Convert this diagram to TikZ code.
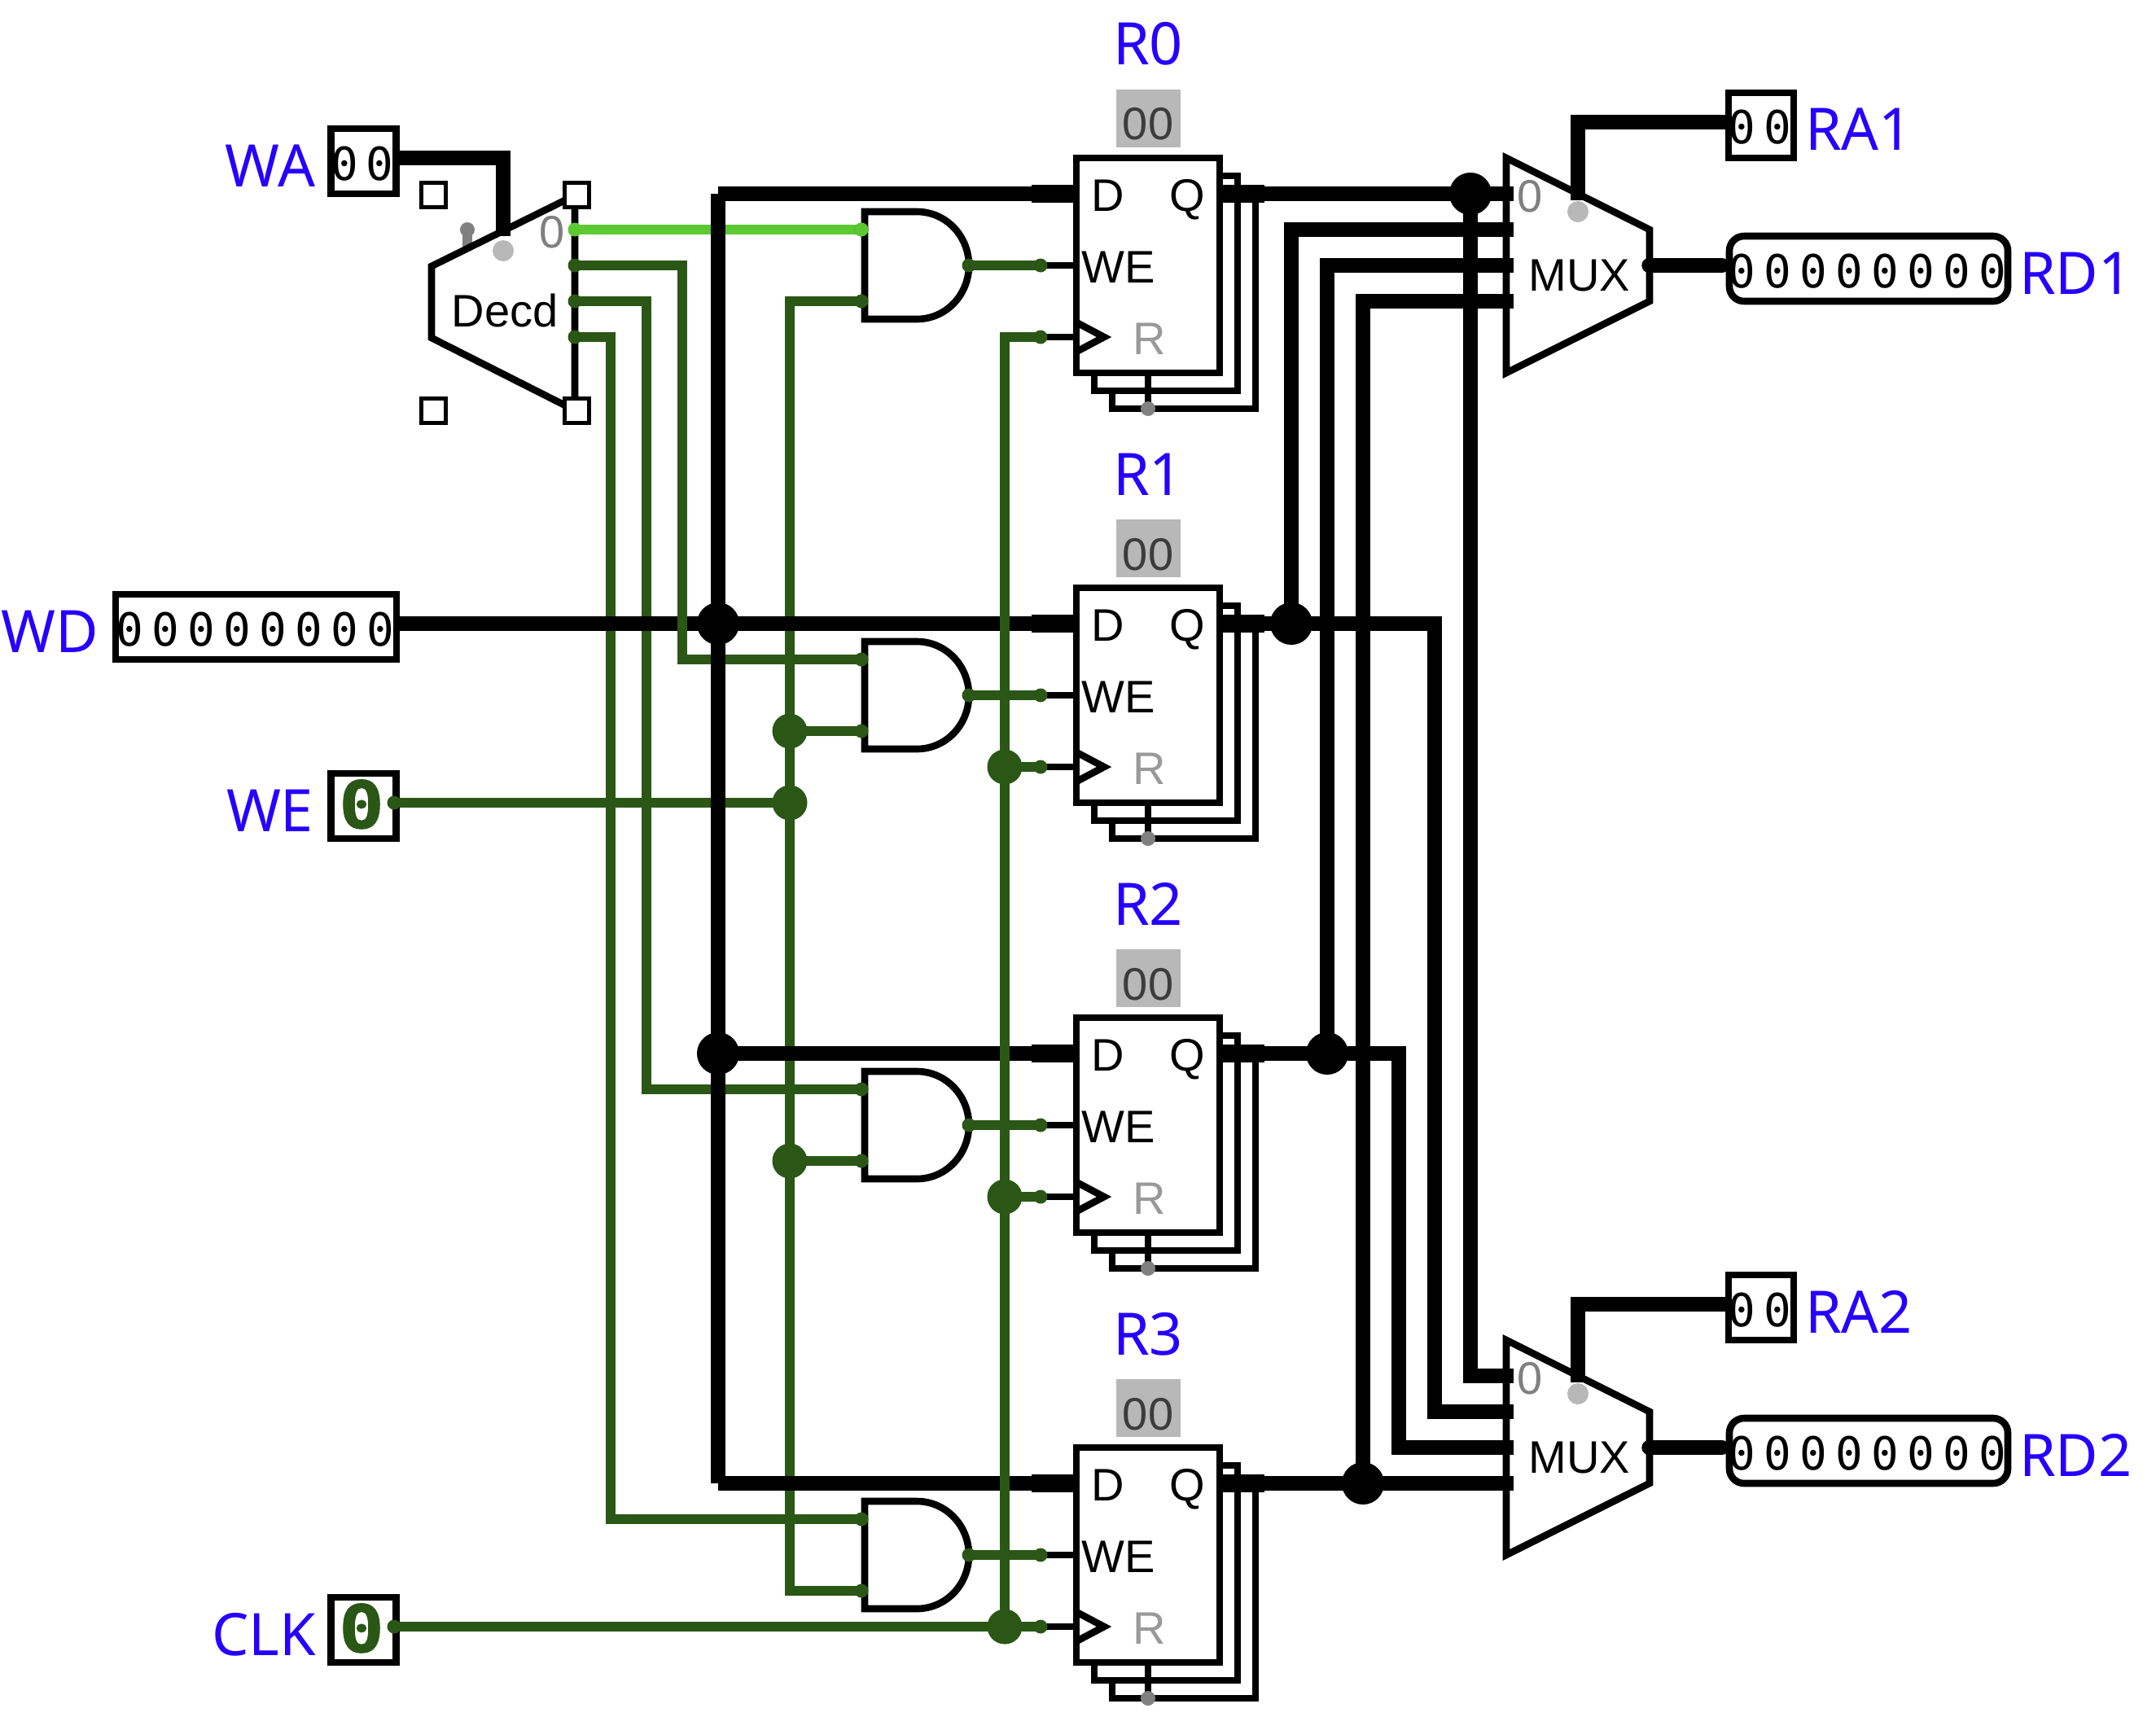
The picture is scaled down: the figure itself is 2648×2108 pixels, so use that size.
\documentclass[tikz,border=0pt]{standalone}
\usepackage{fontspec}
\setmainfont{Liberation Sans}
\newfontfamily\labfont{Noto Sans}
\newfontfamily\digfont{DejaVu Sans Mono}[LetterSpace=18.4]
\newfontfamily\bitfont{DejaVu Sans Mono}[FakeStretch=1.15,FakeBold=1.5]
\definecolor{wgreen}{HTML}{2B5716}
\definecolor{wlime}{HTML}{5CC932}
\definecolor{lblue}{HTML}{2600FF}
\definecolor{pgray}{HTML}{808080}
\definecolor{lgray}{HTML}{B8B8B8}
\definecolor{rgray}{HTML}{999999}
\definecolor{vtext}{HTML}{3C3C3C}
\newcommand{\px}[1]{\fontsize{#1}{#1}\selectfont}
\tikzset{
  bus/.style={draw=black,line width=8.7pt},
  stubw/.style={draw=black,line width=11.2pt},
  thin wire/.style={draw=black,line width=4.3pt},
  gwire/.style={draw=wgreen,line width=6.3pt},
  limew/.style={draw=wlime,line width=6.3pt},
  part/.style={draw=black,line width=4.3pt,fill=white,line join=miter},
  regbox/.style={part,rectangle,inner sep=0pt,outer sep=0pt,minimum width=88pt,minimum height=132pt},
  valbox/.style={part,rectangle,inner sep=0pt,outer sep=0pt,minimum height=40pt},
  handle/.style={draw=black,line width=2.5pt,fill=white,rectangle,inner sep=0pt,outer sep=0pt,minimum size=15pt},
  bdot/.style={circle,fill=black,inner sep=0pt,outer sep=0pt,minimum size=26pt},
  jdot/.style={circle,fill=wgreen,inner sep=0pt,outer sep=0pt,minimum size=21.5pt},
  pin/.style={circle,fill=wgreen,inner sep=0pt,outer sep=0pt,minimum size=8.5pt},
  pinl/.style={circle,fill=wlime,inner sep=0pt,outer sep=0pt,minimum size=8.5pt},
  gdot/.style={circle,fill=pgray,inner sep=0pt,outer sep=0pt,minimum size=9pt},
  sel/.style={circle,fill=lgray,inner sep=0pt,outer sep=0pt,minimum size=13pt},
  lab/.style={inner sep=0pt,outer sep=0pt,text=lblue,font={\labfont\bfseries\px{36}},anchor=base},
  txt/.style={inner sep=0pt,outer sep=0pt,font={\px{28}},anchor=base},
  dig/.style={inner sep=0pt,outer sep=0pt,font={\digfont\px{28}},anchor=base west},
  bit/.style={inner sep=0pt,outer sep=0pt,text=wgreen,font={\bitfont\bfseries\px{40}},anchor=base}
}
\begin{document}
\begin{tikzpicture}[x=0.5pt,y=-0.5pt]
\useasboundingbox (0,0) rectangle (2648,2108);
% pins of the four register rows
\foreach \i in {0,1,2,3}{
  \pgfmathsetmacro\dy{528*\i}
  \coordinate (Rd\i) at (1322,238+\dy);
  \coordinate (Dst\i) at (1267,238+\dy);
  \coordinate (Rq\i) at (1498,238+\dy);
  \coordinate (Qst\i) at (1553,238+\dy);
  \coordinate (Rwe\i) at (1322,326+\dy);
  \coordinate (Pwe\i) at (1278,326+\dy);
  \coordinate (Rck\i) at (1322,414+\dy);
  \coordinate (Pck\i) at (1278,414+\dy);
  \coordinate (Ga\i) at (1058,282+\dy);
  \coordinate (Gb\i) at (1058,370+\dy);
  \coordinate (Gy\i) at (1190,326+\dy);
  \coordinate (Dj\i) at (882,238+\dy);
  \coordinate (Wj\i) at (970,370+\dy);
  \coordinate (Cj\i) at (1234,414+\dy);
}
% mux pins
\coordinate (Ma0) at (1859,238); \coordinate (Ma1) at (1859,282);
\coordinate (Ma2) at (1859,326); \coordinate (Ma3) at (1859,370);
\coordinate (Mb0) at (1859,1690); \coordinate (Mb1) at (1859,1734);
\coordinate (Mb2) at (1859,1778); \coordinate (Mb3) at (1859,1822);
% decoder outputs
\coordinate (Do0) at (706,282); \coordinate (Do1) at (706,326);
\coordinate (Do2) at (706,370); \coordinate (Do3) at (706,414);
% input and output boxes
\coordinate (WAo) at (482,194); \coordinate (WDo) at (484,766);
\coordinate (WEo) at (484,986); \coordinate (CKo) at (484,1998);
\coordinate (WEj) at (970,986);
% lower green wires
\draw[gwire] (Do2) -| (794,1338) -- (Ga2);
\draw[gwire] (Do3) -| (750,1866) -- (Ga3);
\draw[gwire] (Gb0) -- (Wj0) -- (970,1954) -- (Gb3);
\draw[gwire] (Wj1) -- (Gb1);
\draw[gwire] (Wj2) -- (Gb2);
\draw[gwire] (WEo) -- (WEj);
% data wires
\draw[bus] (Dj0) -- (Dst0);
\draw[bus] (WDo) -- (Dst1);
\draw[bus] (Dj2) -- (Dst2);
\draw[bus] (Dj3) -- (Dst3);
\draw[gwire] (Do1) -| (838,810) -- (Ga1);
\draw[limew] (Do0) -- (Ga0);
\draw[bus] (Dj0) -- (Dj3);
% clock wire over the data wires
\draw[gwire] (Pck0) -- (Cj0) -- (Cj3);
\draw[gwire] (CKo) -- (Pck3);
\foreach \i in {1,2}{\draw[gwire] (Cj\i) -- (Pck\i);}
\foreach \i in {0,1,2,3}{\draw[gwire] (Gy\i) -- (Pwe\i);}
% registers
\foreach \i/\nm in {0/R0,1/R1,2/R2,3/R3}{
  \pgfmathsetmacro\dy{528*\i}
  \node[regbox] (regb\i) at (1454,370+\dy) {};
  \node[regbox] (rega\i) at (1432,348+\dy) {};
  \node[regbox] (reg\i) at (1410,326+\dy) {};
  \node[lab] (name\i) at (1410,80+\dy) {\nm};
  \node[fill=lgray,inner sep=0pt,outer sep=0pt,minimum width=39.5pt,minimum height=35.5pt] (val\i) at (1410,145.5+\dy) {};
  \node[txt,text=vtext] (valt\i) at (1410,172+\dy) {00};
  \node[txt] (tD\i) at (1361,259+\dy) {D};
  \node[txt] (tQ\i) at (1458,259+\dy) {Q};
  \node[txt] (tW\i) at (1374,347+\dy) {WE};
  \node[txt,text=rgray] (tR\i) at (1412,435+\dy) {R};
  \draw[part,fill=none] (1322,396+\dy) -- (1356,414+\dy) -- (1322,432+\dy);
  \coordinate (Rb\i) at (1410,502+\dy);
  \draw[thin wire] (reg\i.south) -- (Rb\i);
  \node[gdot] (rdot\i) at (Rb\i) {};
  \draw[stubw] (Dst\i) -- (Rd\i);
  \draw[stubw] (Rq\i) -- (Qst\i);
  \draw[thin wire] (Pwe\i) -- (Rwe\i);
  \draw[thin wire] (Pck\i) -- (Rck\i);
  \draw[part] (1062,260+\dy) -- (1126,260+\dy) .. controls (1162,260+\dy) and (1190,290+\dy) .. (1190,326+\dy) .. controls (1190,362+\dy) and (1162,392+\dy) .. (1126,392+\dy) -- (1062,392+\dy) -- cycle;
  \node[pin] (pa\i) at (Ga\i) {};
  \node[pin] (pb\i) at (Gb\i) {};
  \node[pin] (py\i) at (Gy\i) {};
  \node[pin] (pw\i) at (Pwe\i) {};
  \node[pin] (pc\i) at (Pck\i) {};
}
\node[pinl] (pa0l) at (Ga0) {};
% multiplexers
\foreach \n/\dy/\v/\t in {A/0/1/RA1,B/1452/2/RA2}{
  \draw[part] (1850,194+\dy) -- (2026,282+\dy) -- (2026,370+\dy) -- (1850,458+\dy) -- cycle;
  \node[txt] (mt\n) at (1940,357+\dy) {MUX};
  \node[txt,text=pgray] (mz\n) at (1879,260+\dy) {0};
  \node[sel] (ms\n) at (1938,260+\dy) {};
  \coordinate (mst\n) at (1938,246+\dy);
  \node[part,valbox,minimum width=40pt] (ra\n) at (2163,154+\dy) {};
  \node[dig] (rav\n) at (2122.6,177+\dy) {00};
  \node[lab,anchor=base west] (ral\n) at (2217,185+\dy) {\t};
  \coordinate (rao\n) at (2124,150+\dy);
  \draw[bus] (rao\n) -| (mst\n);
  \node[part,valbox,minimum width=171pt,rounded corners=9pt] (rd\n) at (2295,330+\dy) {};
  \node[dig] (rdv\n) at (2122.6,353+\dy) {00000000};
  \node[lab,anchor=base west] (rdl\n) at (2480,361+\dy) {RD\v};
  \coordinate (mo\n) at (2025,326+\dy);
  \coordinate (ri\n) at (2115,326+\dy);
  \draw[bus,line cap=round] (mo\n) -- (ri\n);
}
% register outputs to multiplexers
\draw[bus] (Rq0) -- (Ma0);
\draw[bus] (1806,238) -- (1806,1690) -- (Mb0);
\draw[bus] (Rq1) -- (1762,766) -- (1762,1734) -- (Mb1);
\draw[bus] (Rq2) -- (1718,1294) -- (1718,1778) -- (Mb2);
\draw[bus] (Rq3) -- (Mb3);
\draw[bus] (1586,766) -- (1586,282) -- (Ma1);
\draw[bus] (1630,1294) -- (1630,326) -- (Ma2);
\draw[bus] (1674,1822) -- (1674,370) -- (Ma3);
\foreach \i in {0,1,2,3}{\draw[stubw] (Rq\i) -- (Qst\i);}
\node[bdot] (j0) at (1806,238) {};
\node[bdot] (j1) at (1586,766) {};
\node[bdot] (j2) at (1630,1294) {};
\node[bdot] (j3) at (1674,1822) {};
\node[bdot] (d1) at (Dj1) {};
\node[bdot] (d2) at (Dj2) {};
\node[jdot] (w1) at (Wj1) {};
\node[jdot] (w2) at (Wj2) {};
\node[jdot] (w3) at (WEj) {};
\node[jdot] (c1) at (Cj1) {};
\node[jdot] (c2) at (Cj2) {};
\node[jdot] (c3) at (Cj3) {};
% decoder
\draw[draw=pgray,line width=6pt] (574,282) -- (574,306);
\node[gdot] (dh) at (574,282) {};
\draw[part] (530,327) -- (706,240) -- (706,504) -- (530,415) -- cycle;
\node[sel] (ds) at (618,308) {};
\node[txt] (dt) at (620,401) {Decd};
\node[txt,text=pgray] (dz) at (678,304) {0};
\node[part,valbox,minimum width=40pt] (WA) at (446.5,198) {};
\node[dig] (WAv) at (406,221) {00};
\node[lab,anchor=base east] (WAl) at (387,229) {WA};
\draw[bus] (WAo) -| (618,290);
\node[handle] (h1) at (532,240) {};
\node[handle] (h2) at (708,240) {};
\node[handle] (h3) at (532,504) {};
\node[handle] (h4) at (708,504) {};
\node[pinl] (p0) at (Do0) {};
\node[pin] (p1) at (Do1) {};
\node[pin] (p2) at (Do2) {};
\node[pin] (p3) at (Do3) {};
% input boxes
\node[part,valbox,minimum width=172.5pt] (WD) at (314.5,770) {};
\node[dig] (WDv) at (142.5,793) {00000000};
\node[lab,anchor=base east] (WDl) at (121,801) {WD};
\node[part,valbox,minimum width=40pt] (WE) at (446.5,990) {};
\node[bit] (WEv) at (444,1017) {0};
\node[lab,anchor=base east] (WEl) at (385,1021) {WE};
\node[pin] (WEp) at (WEo) {};
\node[part,valbox,minimum width=40pt] (CK) at (446.5,2002) {};
\node[bit] (CKv) at (444,2029) {0};
\node[lab,anchor=base east] (CKl) at (388,2033) {CLK};
\node[pin] (CKp) at (CKo) {};
\end{tikzpicture}
\end{document}
